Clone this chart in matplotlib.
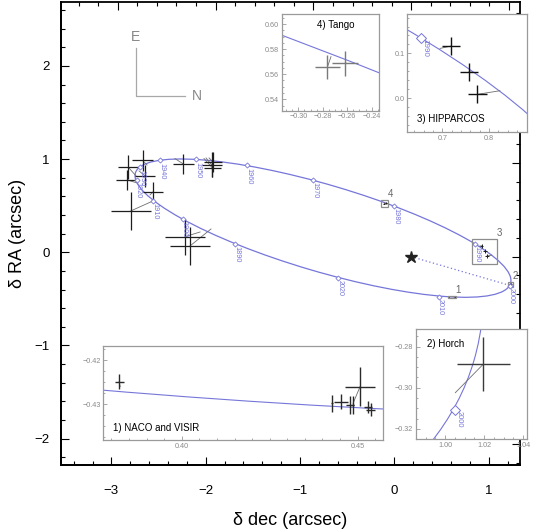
import numpy as np
import matplotlib
matplotlib.use('Agg')
import matplotlib.pyplot as plt
from matplotlib.patches import Ellipse, Rectangle
from matplotlib.ticker import MultipleLocator, FixedLocator

plt.rcParams['font.family'] = ['Liberation Sans', 'DejaVu Sans']

# ---------------- data (relative coordinates, arcsec) ----------------
# apparent orbit ellipse
orbit_center = (-0.9023, 0.3039)
orbit_axes = (0.9224, 4.0120)      # full lengths
orbit_angle = 72.877                # degrees

years = [1890, 1900, 1910, 1920, 1930, 1940, 1950, 1960, 1970, 1980, 1990, 2000, 2010, 2020]
year_dec = [-1.802, -2.336, -2.637, -2.807, -2.773, -2.565, -2.200, -1.679, -1.001, -0.176, 0.655, 1.005, 0.281, -0.745]
year_ra = [0.139, 0.405, 0.594, 0.817, 0.953, 1.030, 1.038, 0.974, 0.817, 0.540, 0.135, -0.311, -0.426, -0.224]

# historical visual measurements
hist_dec = [-2.747, -2.893, -2.722, -2.903, -2.637, -2.868, -2.330, -2.040, -2.027, -2.032, -2.313, -2.262]
hist_ra = [1.025, 0.953, 0.860, 0.817, 0.693, 0.487, 0.988, 0.977, 1.009, 0.945, 0.213, 0.114]
hist_edec = [0.107, 0.102, 0.102, 0.112, 0.102, 0.204, 0.107, 0.102, 0.090, 0.090, 0.204, 0.204]
hist_era = [0.112, 0.128, 0.117, 0.107, 0.107, 0.202, 0.107, 0.133, 0.110, 0.100, 0.192, 0.202]
hist_pdec = [-2.701, -2.814, -2.783, -2.804, -2.671, -2.640, -2.417, -2.098, -2.067, -2.119, -2.159, -2.047]
hist_pra = [0.977, 0.861, 0.914, 0.786, 0.658, 0.594, 1.046, 1.052, 1.052, 1.046, 0.263, 0.295]

tango_dec = [-0.2763, -0.2619]
tango_ra = [0.5655, 0.5687]
tango_edec = [0.0102, 0.0104]
tango_era = [0.0096, 0.0098]
tango_pdec = [-0.2733, -0.2612]
tango_pra = [0.5740, 0.5692]

hip_dec = [0.7186, 0.757, 0.775]
hip_ra = [0.1163, 0.0588, 0.0083]
hip_edec = [0.0197, 0.0196, 0.0203]
hip_era = [0.0205, 0.0200, 0.0205]
hip_pdec = [0.695, 0.762, 0.823]
hip_pra = [0.111, 0.058, 0.0163]

horch_dec = [1.0196]
horch_ra = [-0.2885]
horch_edec = [0.0138]
horch_era = [0.0130]
horch_pdec = [1.0052]
horch_pra = [-0.3024]

naco_dec = [0.3822, 0.4426, 0.4453, 0.4478, 0.4486, 0.4507, 0.4530, 0.4537]
naco_ra = [-0.4249, -0.4298, -0.4294, -0.4302, -0.4302, -0.4260, -0.4306, -0.4312]
naco_edec = [0.0013, 0.0003, 0.0019, 0.0012, 0.0004, 0.0043, 0.0012, 0.0012]
naco_era = [0.0017, 0.0019, 0.0017, 0.0020, 0.0020, 0.0045, 0.0014, 0.0014]
naco_pdec = [0.3825, 0.4426, 0.4453, 0.4478, 0.4486, 0.4487, 0.4530, 0.4537]
naco_pra = [-0.4260, -0.4299, -0.4300, -0.4301, -0.4301, -0.4298, -0.4302, -0.4302]

periastron = (1.003, -0.305)

# main tick labels
xtick_vals = [-3, -2, -1, 0, 1]
ytick_vals = [-2, -1, 0, 1, 2]

# inset windows: (dec_min, dec_max, ra_min, ra_max)
win_naco = (0.3777, 0.4573, -0.4381, -0.4168)
win_horch = (0.985, 1.042, -0.3249, -0.2716)
win_hip = (0.625, 0.881, -0.076, 0.188)
win_tango = (-0.3136, -0.2338, 0.5309, 0.608)

ORB = '#7676da'
CROSS = '#1e1e1e'
OC = '#6e6e6e'
GRAYTXT = '#8a8a8a'
FRAME_IN = '#9a9a9a'

W, H = 545, 532
fig = plt.figure(figsize=(W/100, H/100), dpi=100)


def fax(l, t, r, b):
    return fig.add_axes([l/W, (H-b)/H, (r-l)/W, (b-t)/H])


ax = fax(60.5, 1.5, 520, 465)
ax.set_xlim(-3.586, 1.112)
ax.set_ylim(-2.220, 2.719)


def draw_orbit(a, lw):
    a.add_patch(Ellipse(orbit_center, orbit_axes[0], orbit_axes[1], angle=orbit_angle,
                        fill=False, ec=ORB, lw=lw, zorder=2))


def draw_obs(a, dec, ra, edec, era, pdec, pra, color, lw):
    for x0, y0, x1, y1 in zip(dec, ra, pdec, pra):
        a.plot([x0, x1], [y0, y1], color=OC, lw=0.6, zorder=3)
    a.errorbar(dec, ra, xerr=edec, yerr=era, fmt='none', ecolor=color, elinewidth=lw, capsize=0, zorder=4)


draw_orbit(ax, 0.9)
ax.plot([0, periastron[0]], [0, periastron[1]], ls=(0, (1, 2)), color=ORB, lw=0.9, zorder=2)
ax.plot(year_dec, year_ra, ls='none', marker='D', ms=2.6, mfc='white', mec=ORB, mew=0.6, zorder=5)
for yv, xd, yr in zip(years, year_dec, year_ra):
    ax.annotate(str(yv), (xd, yr), xytext=(1.5, -2.5), textcoords='offset pixels', rotation=-90,
                ha='center', va='top', fontsize=5.2, color=ORB, zorder=5)

draw_obs(ax, hist_dec, hist_ra, hist_edec, hist_era, hist_pdec, hist_pra, CROSS, 0.9)
for g in [(tango_dec, tango_ra, tango_edec, tango_era, tango_pdec, tango_pra),
          (hip_dec, hip_ra, hip_edec, hip_era, hip_pdec, hip_pra),
          (horch_dec, horch_ra, horch_edec, horch_era, horch_pdec, horch_pra),
          (naco_dec, naco_ra, naco_edec, naco_era, naco_pdec, naco_pra)]:
    draw_obs(ax, *g, CROSS, 0.7)

ax.plot([0], [0], marker='*', ms=9, color='#222222', ls='none', zorder=6)

for lab, win in zip(['1', '2', '3', '4'], [win_naco, win_horch, win_hip, win_tango]):
    ax.add_patch(Rectangle((win[0], win[2]), win[1]-win[0], win[3]-win[2], fill=False, ec='#8c8c8c', lw=0.9, zorder=4))
    ax.annotate(lab, (win[1], win[3]), xytext=(2, 6), textcoords='offset pixels', ha='center', va='center',
                fontsize=7, color='#666666')

# compass
ax.plot([0.1643, 0.1643, 0.271], [0.899, 0.796, 0.796], transform=ax.transAxes, color='#a8a8a8', lw=0.9)
ax.text(0.1643, 0.924, 'E', transform=ax.transAxes, ha='center', va='center', fontsize=10, color='#888888')
ax.text(0.297, 0.796, 'N', transform=ax.transAxes, ha='center', va='center', fontsize=10, color='#888888')

# frame and ticks
for sp in ax.spines.values():
    sp.set_linewidth(1.3)
ax.xaxis.set_major_locator(MultipleLocator(1.0))
ax.xaxis.set_minor_locator(MultipleLocator(0.2))
ax.yaxis.set_major_locator(MultipleLocator(1.0))
ax.yaxis.set_minor_locator(MultipleLocator(0.2))
ax.tick_params(which='both', direction='in', bottom=False, left=False, labelbottom=False, labelleft=False,
               top=True, right=True, labeltop=False, labelright=False)
ax.tick_params(which='major', length=6, width=0.8)
ax.tick_params(which='minor', length=3, width=0.8)

SX, OX = 1.037, 0.179
SY, OY = 1.0075, -0.0472
secx = ax.secondary_xaxis('bottom', functions=(lambda v: SX*v + OX, lambda v: (v - OX)/SX))
secy = ax.secondary_yaxis('left', functions=(lambda v: SY*v + OY, lambda v: (v - OY)/SY))
secx.xaxis.set_major_locator(FixedLocator(xtick_vals))
secy.yaxis.set_major_locator(FixedLocator(ytick_vals))
for sa, axis in [(secx, secx.xaxis), (secy, secy.yaxis)]:
    axis.set_minor_locator(MultipleLocator(0.2))
    sa.tick_params(which='both', direction='in', labelsize=9.5)
    sa.tick_params(which='major', length=6, width=0.8)
    sa.tick_params(which='minor', length=3, width=0.8)
    for sp in sa.spines.values():
        sp.set_linewidth(1.3)
secx.tick_params(axis='x', pad=14.5)
secy.tick_params(axis='y', pad=8)
secx.set_xlabel('δ dec (arcsec)', fontsize=13, labelpad=11)
secy.set_ylabel('δ RA (arcsec)', fontsize=13, labelpad=6)


# ---------------- insets ----------------
def style_inset(a, win, xmaj, xmin, ymaj, ymin, fmtx, fmty):
    a.set_xlim(win[0], win[1]); a.set_ylim(win[2], win[3])
    for sp in a.spines.values():
        sp.set_color(FRAME_IN); sp.set_linewidth(0.9)
    a.xaxis.set_major_locator(MultipleLocator(xmaj)); a.xaxis.set_minor_locator(MultipleLocator(xmin))
    a.yaxis.set_major_locator(MultipleLocator(ymaj)); a.yaxis.set_minor_locator(MultipleLocator(ymin))
    a.xaxis.set_major_formatter(fmtx); a.yaxis.set_major_formatter(fmty)
    a.tick_params(which='both', direction='in', colors=FRAME_IN, labelcolor=GRAYTXT, labelsize=5.2, pad=2)
    a.tick_params(which='major', length=3, width=0.6)
    a.tick_params(which='minor', length=1.6, width=0.6)
    a.set_facecolor('white')


def inset_years(a, ms, fs, off):
    a.plot(year_dec, year_ra, ls='none', marker='D', ms=ms, mfc='white', mec=ORB, mew=0.7, zorder=5)
    for yv, xd, yr in zip(years, year_dec, year_ra):
        a.annotate(str(yv), (xd, yr), xytext=off, textcoords='offset pixels', rotation=-90,
                   ha='center', va='top', fontsize=fs, color=ORB, zorder=5, annotation_clip=True)


a4 = fax(281.7, 14, 379.3, 110.7)
style_inset(a4, win_tango, 0.02, 0.005, 0.02, 0.005, '{x:.2f}', '{x:.2f}')
draw_orbit(a4, 0.8)
draw_obs(a4, tango_dec, tango_ra, tango_edec, tango_era, tango_pdec, tango_pra, '#7a7a7a', 1.0)
a4.text(0.55, 0.885, '4) Tango', transform=a4.transAxes, ha='center', va='center', fontsize=7)

a3 = fax(407.3, 14, 527, 132)
style_inset(a3, win_hip, 0.1, 0.02, 0.1, 0.02, '{x:.1f}', '{x:.1f}')
draw_orbit(a3, 0.8)
inset_years(a3, 5.5, 5.8, (4, -1))
draw_obs(a3, hip_dec, hip_ra, hip_edec, hip_era, hip_pdec, hip_pra, '#111111', 1.0)
a3.text(0.08, 0.11, '3) HIPPARCOS', transform=a3.transAxes, ha='left', va='center', fontsize=7)

a2 = fax(416, 329.3, 527, 439)
style_inset(a2, win_horch, 0.02, 0.005, 0.02, 0.005, '{x:.2f}', '{x:.2f}')
draw_orbit(a2, 0.8)
inset_years(a2, 5.5, 5.4, (4, -1))
draw_obs(a2, horch_dec, horch_ra, horch_edec, horch_era, horch_pdec, horch_pra, '#3a3a3a', 1.0)
a2.text(0.096, 0.866, '2) Horch', transform=a2.transAxes, ha='left', va='center', fontsize=7)

a1 = fax(103.3, 346, 383.3, 440)
style_inset(a1, win_naco, 0.05, 0.005, 0.01, 0.0025, '{x:.2f}', '{x:.2f}')
draw_orbit(a1, 0.8)
draw_obs(a1, naco_dec, naco_ra, naco_edec, naco_era, naco_pdec, naco_pra, '#2a2a2a', 1.0)
a1.text(0.036, 0.124, '1) NACO and VISIR', transform=a1.transAxes, ha='left', va='center', fontsize=7)

fig.savefig('out.png', dpi=100)
